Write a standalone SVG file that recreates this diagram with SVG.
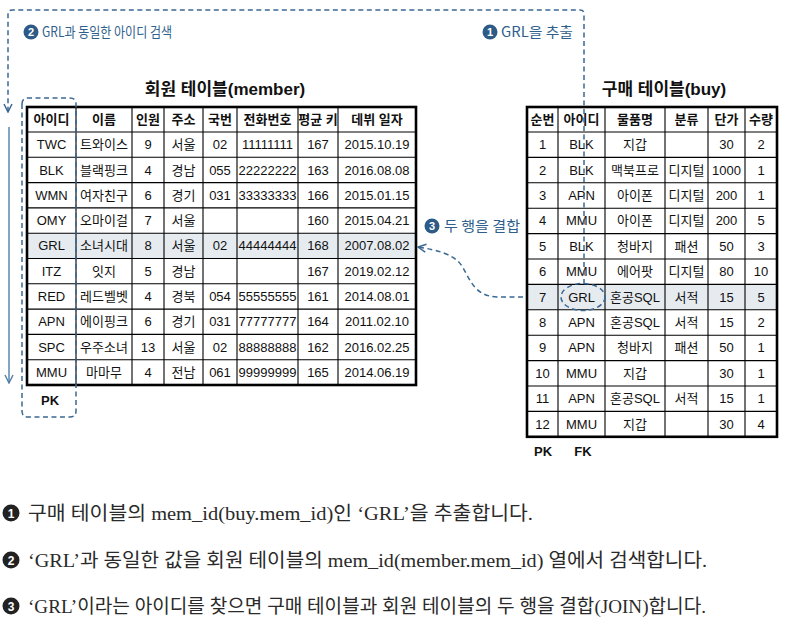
<svg xmlns="http://www.w3.org/2000/svg" width="790" height="637" viewBox="0 0 790 637">
<defs>
<style>
.bg{fill:#ffffff}
.outer{fill:none;stroke:#000;stroke-width:2.6}
.grid{fill:none;stroke:#000;stroke-width:1.1}
.hl{fill:#e6ebf0}
.th{font-family:"Liberation Sans","Noto Sans CJK KR",sans-serif;font-size:13px;font-weight:bold;fill:#111;text-anchor:middle}
.td{font-family:"Liberation Sans","Noto Sans CJK KR",sans-serif;font-size:13px;fill:#111;text-anchor:middle}
.title{font-family:"Liberation Sans","Noto Sans CJK KR",sans-serif;font-size:17px;font-weight:bold;fill:#111;text-anchor:middle}
.key{font-family:"Liberation Sans","Noto Sans CJK KR",sans-serif;font-size:13px;font-weight:bold;fill:#111;text-anchor:middle}
.dash{fill:none;stroke:#3a6893;stroke-width:1.5;stroke-dasharray:5 3.5}
.solid{fill:none;stroke:#4f7ea9;stroke-width:1.4}
.hand{font-family:"Noto Sans CJK KR",sans-serif;font-size:14px;fill:#2f5f8c}
.bnum{fill:#2d5a86}
.bnumt{font-family:"Liberation Sans",sans-serif;font-size:11px;font-weight:bold;fill:#fff;text-anchor:middle}
.note{font-family:"Liberation Serif","Noto Sans CJK KR",serif;font-size:19px;fill:#2a2a2a}
.nnum{fill:#222}
.nnumt{font-family:"Liberation Sans",sans-serif;font-size:12px;font-weight:bold;fill:#fff;text-anchor:middle}
</style>
<marker id="chev" viewBox="0 0 10 10" refX="9" refY="5" markerWidth="10" markerHeight="10" markerUnits="userSpaceOnUse" orient="auto">
<path d="M1,1 L9,5 L1,9" fill="none" stroke="#3a6893" stroke-width="1.5"/>
</marker>
<marker id="chev2" viewBox="0 0 10 10" refX="9" refY="5" markerWidth="10" markerHeight="10" markerUnits="userSpaceOnUse" orient="auto">
<path d="M1,1 L9,5 L1,9" fill="none" stroke="#4f7ea9" stroke-width="1.4"/>
</marker>
</defs>
<rect class="bg" x="0" y="0" width="790" height="637"/>

<g id="member-table">
<text class="title" x="225" y="95">회원 테이블(member)</text>
<rect class="bg" x="27" y="107" width="389" height="278"/>
<rect class="hl" x="27" y="233.2" width="389" height="25.3"/>
<g class="grid">
<path d="M27,132H416M27,157.3H416M27,182.6H416M27,207.9H416M27,233.2H416M27,258.5H416M27,283.8H416M27,309.1H416M27,334.4H416M27,359.7H416"/>
<path d="M76,107V385M132,107V385M164,107V385M203,107V385M237,107V385M298,107V385M338,107V385"/>
</g>
<rect class="outer" x="27" y="107" width="389" height="278"/>
<text class="th" y="124"><tspan x="51.5">아이디</tspan><tspan x="104">이름</tspan><tspan x="148">인원</tspan><tspan x="183.5">주소</tspan><tspan x="220">국번</tspan><tspan x="267.5">전화번호</tspan><tspan x="318">평균 키</tspan><tspan x="377">데뷔 일자</tspan></text>
<text class="td" y="149.2"><tspan x="51.5">TWC</tspan><tspan x="104">트와이스</tspan><tspan x="148">9</tspan><tspan x="183.5">서울</tspan><tspan x="220">02</tspan><tspan x="267.5">11111111</tspan><tspan x="318">167</tspan><tspan x="377">2015.10.19</tspan></text>
<text class="td" y="174.5"><tspan x="51.5">BLK</tspan><tspan x="104">블랙핑크</tspan><tspan x="148">4</tspan><tspan x="183.5">경남</tspan><tspan x="220">055</tspan><tspan x="267.5">22222222</tspan><tspan x="318">163</tspan><tspan x="377">2016.08.08</tspan></text>
<text class="td" y="199.8"><tspan x="51.5">WMN</tspan><tspan x="104">여자친구</tspan><tspan x="148">6</tspan><tspan x="183.5">경기</tspan><tspan x="220">031</tspan><tspan x="267.5">33333333</tspan><tspan x="318">166</tspan><tspan x="377">2015.01.15</tspan></text>
<text class="td" y="225.1"><tspan x="51.5">OMY</tspan><tspan x="104">오마이걸</tspan><tspan x="148">7</tspan><tspan x="183.5">서울</tspan><tspan x="318">160</tspan><tspan x="377">2015.04.21</tspan></text>
<text class="td" y="250.4"><tspan x="51.5">GRL</tspan><tspan x="104">소녀시대</tspan><tspan x="148">8</tspan><tspan x="183.5">서울</tspan><tspan x="220">02</tspan><tspan x="267.5">44444444</tspan><tspan x="318">168</tspan><tspan x="377">2007.08.02</tspan></text>
<text class="td" y="275.7"><tspan x="51.5">ITZ</tspan><tspan x="104">잇지</tspan><tspan x="148">5</tspan><tspan x="183.5">경남</tspan><tspan x="318">167</tspan><tspan x="377">2019.02.12</tspan></text>
<text class="td" y="301"><tspan x="51.5">RED</tspan><tspan x="104">레드벨벳</tspan><tspan x="148">4</tspan><tspan x="183.5">경북</tspan><tspan x="220">054</tspan><tspan x="267.5">55555555</tspan><tspan x="318">161</tspan><tspan x="377">2014.08.01</tspan></text>
<text class="td" y="326.3"><tspan x="51.5">APN</tspan><tspan x="104">에이핑크</tspan><tspan x="148">6</tspan><tspan x="183.5">경기</tspan><tspan x="220">031</tspan><tspan x="267.5">77777777</tspan><tspan x="318">164</tspan><tspan x="377">2011.02.10</tspan></text>
<text class="td" y="351.6"><tspan x="51.5">SPC</tspan><tspan x="104">우주소녀</tspan><tspan x="148">13</tspan><tspan x="183.5">서울</tspan><tspan x="220">02</tspan><tspan x="267.5">88888888</tspan><tspan x="318">162</tspan><tspan x="377">2016.02.25</tspan></text>
<text class="td" y="376.9"><tspan x="51.5">MMU</tspan><tspan x="104">마마무</tspan><tspan x="148">4</tspan><tspan x="183.5">전남</tspan><tspan x="220">061</tspan><tspan x="267.5">99999999</tspan><tspan x="318">165</tspan><tspan x="377">2014.06.19</tspan></text>
<text class="key" x="50" y="405">PK</text>
</g>

<g id="buy-table">
<text class="title" x="664" y="95">구매 테이블(buy)</text>
<rect class="bg" x="527" y="107" width="250" height="329.8"/>
<rect class="hl" x="527" y="284.4" width="250" height="25.4"/>
<g class="grid">
<path d="M527,132H777M527,157.4H777M527,182.8H777M527,208.2H777M527,233.6H777M527,259H777M527,284.4H777M527,309.8H777M527,335.2H777M527,360.6H777M527,386H777M527,411.4H777"/>
<path d="M558,107V436.8M605,107V436.8M665,107V436.8M708,107V436.8M745,107V436.8"/>
</g>
<rect class="outer" x="527" y="107" width="250" height="329.8"/>
<text class="th" y="124"><tspan x="542.5">순번</tspan><tspan x="581.5">아이디</tspan><tspan x="635">물품명</tspan><tspan x="686.5">분류</tspan><tspan x="726.5">단가</tspan><tspan x="761">수량</tspan></text>
<text class="td" y="149.2"><tspan x="542.5">1</tspan><tspan x="581.5">BLK</tspan><tspan x="635">지갑</tspan><tspan x="726.5">30</tspan><tspan x="761">2</tspan></text>
<text class="td" y="174.6"><tspan x="542.5">2</tspan><tspan x="581.5">BLK</tspan><tspan x="635">맥북프로</tspan><tspan x="686.5">디지털</tspan><tspan x="726.5">1000</tspan><tspan x="761">1</tspan></text>
<text class="td" y="200"><tspan x="542.5">3</tspan><tspan x="581.5">APN</tspan><tspan x="635">아이폰</tspan><tspan x="686.5">디지털</tspan><tspan x="726.5">200</tspan><tspan x="761">1</tspan></text>
<text class="td" y="225.4"><tspan x="542.5">4</tspan><tspan x="581.5">MMU</tspan><tspan x="635">아이폰</tspan><tspan x="686.5">디지털</tspan><tspan x="726.5">200</tspan><tspan x="761">5</tspan></text>
<text class="td" y="250.8"><tspan x="542.5">5</tspan><tspan x="581.5">BLK</tspan><tspan x="635">청바지</tspan><tspan x="686.5">패션</tspan><tspan x="726.5">50</tspan><tspan x="761">3</tspan></text>
<text class="td" y="276.2"><tspan x="542.5">6</tspan><tspan x="581.5">MMU</tspan><tspan x="635">에어팟</tspan><tspan x="686.5">디지털</tspan><tspan x="726.5">80</tspan><tspan x="761">10</tspan></text>
<text class="td" y="301.6"><tspan x="542.5">7</tspan><tspan x="581.5">GRL</tspan><tspan x="635">혼공SQL</tspan><tspan x="686.5">서적</tspan><tspan x="726.5">15</tspan><tspan x="761">5</tspan></text>
<text class="td" y="327"><tspan x="542.5">8</tspan><tspan x="581.5">APN</tspan><tspan x="635">혼공SQL</tspan><tspan x="686.5">서적</tspan><tspan x="726.5">15</tspan><tspan x="761">2</tspan></text>
<text class="td" y="352.4"><tspan x="542.5">9</tspan><tspan x="581.5">APN</tspan><tspan x="635">청바지</tspan><tspan x="686.5">패션</tspan><tspan x="726.5">50</tspan><tspan x="761">1</tspan></text>
<text class="td" y="377.8"><tspan x="542.5">10</tspan><tspan x="581.5">MMU</tspan><tspan x="635">지갑</tspan><tspan x="726.5">30</tspan><tspan x="761">1</tspan></text>
<text class="td" y="403.2"><tspan x="542.5">11</tspan><tspan x="581.5">APN</tspan><tspan x="635">혼공SQL</tspan><tspan x="686.5">서적</tspan><tspan x="726.5">15</tspan><tspan x="761">1</tspan></text>
<text class="td" y="428.6"><tspan x="542.5">12</tspan><tspan x="581.5">MMU</tspan><tspan x="635">지갑</tspan><tspan x="726.5">30</tspan><tspan x="761">4</tspan></text>
<text class="key" x="543" y="456">PK</text>
<text class="key" x="583" y="456">FK</text>
</g>

<g id="connectors">
<path class="dash" d="M22,104 Q22,98 28,98 H70 Q76,98 76,104 V411 Q76,417 70,417 H28 Q22,417 22,411 Z"/>
<ellipse class="dash" cx="583" cy="297" rx="22" ry="13.5"/>
<path class="dash" d="M584,284 V14 Q584,10 580,10 H12 Q8,10 8,14 V112" marker-end="url(#chev)"/>
<path class="solid" d="M9,127 V383" marker-end="url(#chev2)"/>
<path class="dash" d="M523,297 H497 C474,296 470,279 462,266 C454,254 437,250 418,247" marker-end="url(#chev)"/>
</g>

<g id="label-2">
<circle class="bnum" cx="31" cy="32" r="7.5"/>
<text class="bnumt" x="31" y="36">2</text>
<text class="hand" x="42" y="37" textLength="130" lengthAdjust="spacingAndGlyphs">GRL과 동일한 아이디 검색</text>
</g>
<g id="label-1">
<circle class="bnum" cx="490" cy="32" r="7.5"/>
<text class="bnumt" x="490" y="36">1</text>
<text class="hand" x="501" y="37" textLength="72" lengthAdjust="spacingAndGlyphs">GRL을 추출</text>
</g>
<g id="label-3">
<circle class="bnum" cx="432" cy="226" r="7.5"/>
<text class="bnumt" x="432" y="230">3</text>
<text class="hand" x="444" y="231" textLength="76" lengthAdjust="spacingAndGlyphs">두 행을 결합</text>
</g>

<g id="notes">
<circle class="nnum" cx="11" cy="513" r="8.5"/>
<text class="nnumt" x="11" y="517.5">1</text>
<text class="note" x="28" y="520" textLength="505" lengthAdjust="spacingAndGlyphs">구매 테이블의 mem_id(buy.mem_id)인 ‘GRL’을 추출합니다.</text>
<circle class="nnum" cx="11" cy="560" r="8.5"/>
<text class="nnumt" x="11" y="564.5">2</text>
<text class="note" x="28" y="567" textLength="679" lengthAdjust="spacingAndGlyphs">‘GRL’과 동일한 값을 회원 테이블의 mem_id(member.mem_id) 열에서 검색합니다.</text>
<circle class="nnum" cx="11" cy="606" r="8.5"/>
<text class="nnumt" x="11" y="610.5">3</text>
<text class="note" x="28" y="613" textLength="678" lengthAdjust="spacingAndGlyphs">‘GRL’이라는 아이디를 찾으면 구매 테이블과 회원 테이블의 두 행을 결합(JOIN)합니다.</text>
</g>
</svg>
